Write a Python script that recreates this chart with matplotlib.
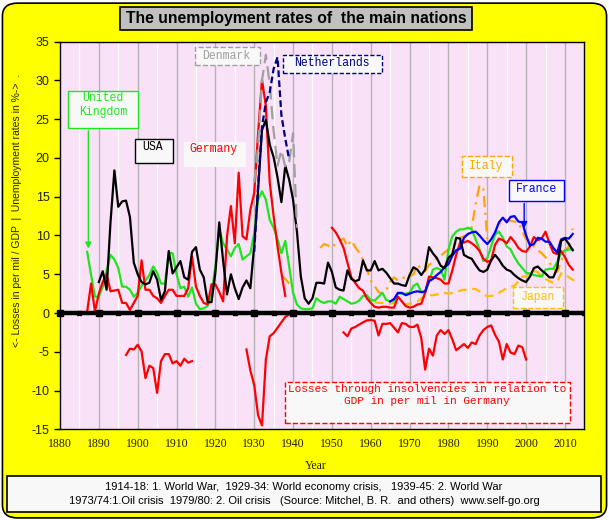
import numpy as np
import matplotlib
matplotlib.use("Agg")
import matplotlib.pyplot as plt
from matplotlib.patches import Rectangle, FancyBboxPatch

# unemployment rates in %, each series given as first year + yearly values
uk_start = 1887
uk = [7.9, 4.9, 2.1, 2.1, 3.4, 5.5, 7.5, 6.9, 5.8, 3.4, 3.4, 3.0, 2.1,
      2.6, 3.5, 4.2, 4.9, 6.0, 5.2, 3.8, 3.8, 7.8, 7.7, 5.0, 3.2, 3.4, 2.1,
      3.3, 1.2, 0.5, 0.6, 0.9,
      2.5, 6.0, 10.8, 9.0, 8.2, 7.3, 8.4, 8.9, 6.9, 7.3, 7.7, 10.3, 14.6,
      15.7, 14.6, 12.0, 11.0, 9.5, 7.7, 9.3, 6.0, 2.6, 1.1, 0.6, 0.5, 0.5,
      0.6, 1.9, 1.5, 1.3, 1.5, 1.5, 1.2, 2.1, 1.8, 1.5, 1.2, 1.3, 1.6, 2.2,
      2.3, 1.7, 1.6, 2.1, 2.6, 1.7, 1.5, 1.6, 2.5, 2.5, 2.5, 2.6, 3.5, 3.8,
      2.7, 2.6, 4.1, 5.6, 5.8, 5.6, 4.3, 8.2, 9.9, 10.5, 10.8, 10.8, 11.0,
      10.8, 9.5, 8.2, 6.7, 7.1, 8.6, 10.1, 10.5, 9.7, 8.6, 8.2, 7.2, 6.4,
      5.8, 5.2, 5.1, 4.9, 4.8, 4.7, 5.6, 5.7, 5.7, 6.6, 7.7, 8.1, 8.2, 8.2]

usa_start = 1890
usa = [4.0, 5.4, 3.0, 11.7, 18.4, 13.7, 14.4, 14.5, 12.4, 6.5,
       5.0, 4.0, 3.7, 3.9, 5.4, 4.3, 1.7, 2.8, 8.0, 5.1,
       5.9, 6.7, 4.6, 4.3, 7.9, 8.5, 5.6, 4.6, 1.4, 1.4,
       5.2, 11.7, 6.7, 2.4, 5.0, 3.2, 1.8, 3.3, 4.2, 3.2,
       8.7, 15.9, 23.6, 24.9, 21.7, 20.1, 17.5, 14.3, 19.0, 17.2,
       14.6, 10.5, 4.7, 1.9, 1.2, 1.9, 3.9, 3.9, 3.8, 6.5,
       5.3, 3.3, 3.0, 2.9, 5.5, 4.4, 4.1, 4.3, 6.8, 5.5,
       5.5, 6.7, 5.5, 5.7, 5.2, 4.5, 3.8, 3.8, 3.6, 3.5,
       4.9, 5.9, 5.6, 4.9, 5.6, 8.5, 7.7, 7.1, 6.1, 5.8,
       7.1, 7.6, 9.7, 9.6, 7.5, 7.2, 7.0, 6.2, 5.5, 5.3,
       5.6, 6.8, 7.5, 6.9, 6.1, 5.6, 5.4, 4.9, 4.5, 4.2,
       4.0, 4.7, 5.8, 6.0, 5.5, 5.1, 4.6, 4.6, 5.8, 9.3,
       9.6, 8.9, 8.1]

germany_early_start = 1887
germany_early = [0.2, 3.8, 0.2, 2.5, 4.0, 5.0, 2.8, 2.9, 3.0, 1.3, 1.3,
                 0.4, 1.3, 2.2, 6.8, 3.0, 3.0, 2.2, 1.9, 1.3, 2.2, 3.0,
                 3.0, 2.2, 2.2, 2.2, 3.2, 7.3, 3.4, 2.2, 1.3, 1.1,
                 3.7, 3.7, 2.7, 1.5, 9.9, 13.8, 9.0, 18.1, 9.9, 9.5,
                 13.3, 15.5, 23.2, 30.1, 26.7, 16.8, 12.5, 8.6, 5.2, 2.2]

germany_late_start = 1950
germany_late = [11.0, 10.4, 9.5, 8.4, 6.5, 4.6, 3.9, 3.2, 2.9, 1.9,
                1.3, 0.8, 0.7, 0.8, 0.8, 0.7, 0.7, 2.1, 1.5, 0.9,
                0.7, 0.8, 1.1, 1.2, 2.6, 4.7, 4.6, 4.5, 4.3, 3.8,
                3.8, 5.5, 7.5, 9.1, 9.1, 9.3, 9.0, 8.6, 8.0, 7.0,
                6.6, 6.8, 8.8, 9.6, 9.4, 9.0, 9.8, 9.2, 8.4, 8.0,
                7.9, 8.6, 9.8, 9.4, 9.6, 10.5, 9.0, 7.8, 7.6, 8.0,
                7.2, 6.2, 5.6]

denmark_start = 1930
denmark = [16.8, 21.5, 30.0, 33.3, 29.5, 23.5, 19.0, 21.0, 18.8, 19.5,
           23.2, 11.0]

netherlands_start = 1930
netherlands = [7.9, 16.5, 24.0, 27.2, 28.5, 31.5, 33.0, 25.5, 22.5, 19.8]

italy_early_start = 1937
italy_early = [4.8, 4.4, 3.8]

italy_late_start = 1947
italy_late = [8.4, 8.9, 8.7, 8.4, 9.0, 9.3, 9.6, 8.6, 9.4, 8.5,
              7.8, 6.9, 5.6, 4.2, 3.5, 2.7, 2.5, 3.0, 4.0, 4.6,
              4.2, 4.5, 4.6, 4.7, 5.0, 6.3, 5.6, 5.4, 6.2, 6.6,
              7.1, 7.4, 7.8, 8.2, 8.5, 9.1, 9.7, 9.9, 10.1, 11.1,
              14.0, 16.5, 16.0, 9.5, 9.4, 10.2, 11.4, 12.0, 12.0, 11.9,
              11.8, 11.7, 10.6, 9.5, 9.1, 8.6, 8.1, 7.7, 7.2, 6.5,
              5.8, 5.3, 6.6, 8.0, 8.6, 10.9]

japan_start = 1961
japan = [1.4, 1.3, 1.3, 1.2, 1.2, 1.3, 1.3, 1.2, 1.1, 1.2,
         1.3, 1.5, 1.9, 2.2, 2.3, 2.3, 2.4, 2.5, 2.6, 2.5,
         2.6, 2.7, 2.9, 3.0, 3.0, 3.1, 3.1, 2.8, 2.4, 2.2,
         2.2, 2.3, 2.6, 2.9, 3.2, 3.4, 3.5, 4.1, 4.7, 4.7,
         5.0, 5.4, 5.3, 4.7, 4.4, 4.1, 3.9, 4.0, 5.1, 5.1,
         4.6, 4.3, 4.0]

france_start = 1965
france = [1.5, 1.8, 2.6, 2.6, 2.3, 2.5, 2.7, 2.8, 2.7, 2.8,
          4.1, 4.4, 4.9, 5.3, 5.9, 6.3, 7.4, 8.1, 8.3, 9.7,
          10.2, 10.4, 10.5, 10.0, 9.4, 8.9, 9.5, 10.4, 11.7, 12.3,
          11.7, 12.4, 12.5, 11.8, 11.7, 10.0, 8.7, 8.9, 9.7, 9.6,
          9.2, 9.2, 8.4, 7.8, 9.5, 9.7, 9.6, 10.2]

# losses through insolvencies in Germany, per mil of GDP (drawn negative)
losses_a_start = 1897
losses_a = [-5.4, -4.6, -4.7, -4.1, -4.95, -8.4, -6.8, -7.1, -10.3, -6.2,
            -5.3, -5.3, -6.5, -6.2, -6.8, -5.9, -6.4, -6.2]
losses_b_start = 1928
losses_b = [-4.7, -7.4, -9.3, -13.2, -14.5, -6.0, -3.0, -2.6, -1.9, -1.2,
            -0.5, -0.2]
losses_c_start = 1953
losses_c = [-2.5, -3.0, -2.0, -1.8, -1.5, -1.2, -0.95, -0.9, -1.0, -2.9,
            -1.4, -1.4, -1.3, -1.9, -2.5, -1.3, -1.4, -1.8, -1.8, -1.5,
            -3.2, -7.3, -4.6, -5.5, -2.9, -2.2, -2.7, -2.2, -3.4, -4.8,
            -4.4, -4.0, -4.5, -3.8, -4.0, -2.9, -2.2, -1.8, -1.6, -2.8,
            -3.7, -6.0, -4.0, -5.1, -5.3, -4.2, -4.4, -6.0]

x_ticks = list(range(1880, 2011, 10))
y_ticks = list(range(-15, 36, 5))

GREEN = "#1EE61E"
RED = "#FF0000"
BLUE = "#0000FF"
NAVY = "#000080"
GRAY = "#A0A0A0"
ORANGE = "#FFA500"
JAPAN = "#FFBF00"
BOXFONT = "Liberation Mono"


def years(start, vals):
    return np.arange(start, start + len(vals))


def label_box(ax, x0, x1, y0, y1, edge, ls="-"):
    ax.add_patch(Rectangle((x0, y0), x1 - x0, y1 - y0, facecolor="#F8F8F8",
                           edgecolor=edge, lw=1, ls=ls, zorder=6))


def main():
    fig = plt.figure(figsize=(6.09, 5.2), dpi=100)
    fig.patch.set_facecolor("white")
    frame = FancyBboxPatch((0.004, 0.004), 0.992, 0.99,
                           boxstyle="round,pad=0,rounding_size=0.025",
                           transform=fig.transFigure, facecolor="#FFFF00",
                           edgecolor="black", lw=1.2, zorder=-10)
    fig.patches.append(frame)

    ax = fig.add_axes([60 / 609, 1 - 429.3 / 520, 524 / 609, 387.6 / 520])
    ax.set_zorder(1)
    ax.set_facecolor("#F9E1F8")
    ax.set_xlim(1880, 2014.9)
    ax.set_ylim(-15, 35)

    # vertical grid: gray every 10 years, white in between
    for yr in range(1885, 2015, 5):
        col = "#B4B4B4" if yr % 10 == 0 else "white"
        ax.axvline(yr, color=col, lw=1, zorder=0.5)

    # zero line with its own tick squares
    ax.axhline(0, color="black", lw=3.2, zorder=4)
    ax.plot(x_ticks, [0] * len(x_ticks), "s", color="black", ms=4.5,
            zorder=4, clip_on=False)
    ax.plot([t + 5 for t in x_ticks], [0] * len(x_ticks), "s",
            color="black", ms=2.5, zorder=4)

    lw = 1.6
    ax.plot(years(japan_start, japan), japan, color=JAPAN, lw=lw,
            ls=(0, (4, 2.5)), zorder=2)
    dashdot = (0, (5, 2.5, 1, 2.5))
    ax.plot(years(italy_early_start, italy_early), italy_early, color=ORANGE,
            lw=lw, ls=dashdot, zorder=2)
    ax.plot(years(italy_late_start, italy_late), italy_late, color=ORANGE,
            lw=lw, ls=dashdot, zorder=2)
    ax.plot(years(uk_start, uk), uk, color=GREEN, lw=lw, zorder=2)
    ax.plot(years(germany_early_start, germany_early), germany_early,
            color=RED, lw=lw, zorder=2)
    ax.plot(years(germany_late_start, germany_late), germany_late,
            color=RED, lw=lw, zorder=2)
    ax.plot(years(france_start, france), france, color=BLUE, lw=lw, zorder=2)
    ax.plot(years(usa_start, usa), usa, color="black", lw=lw, zorder=3)
    ax.plot(years(denmark_start, denmark), denmark, color=GRAY, lw=lw,
            ls=(0, (6, 3)), zorder=3)
    ax.plot(years(netherlands_start, netherlands), netherlands, color=NAVY,
            lw=lw, ls=(0, (3, 1.5)), zorder=3)
    for start, vals in [(losses_a_start, losses_a), (losses_b_start, losses_b),
                        (losses_c_start, losses_c)]:
        ax.plot(years(start, vals), vals, color=RED, lw=lw, zorder=2)

    # country labels
    label_box(ax, 1882.1, 1900.0, 23.9, 28.6, GREEN)
    ax.text(1891.0, 26.8, "United\nKingdom", color=GREEN, family=BOXFONT,
            fontsize=8.3, ha="center", va="center", linespacing=1.2, zorder=7)
    ax.annotate("", xy=(1887.3, 7.95), xytext=(1887.3, 23.9),
                arrowprops=dict(arrowstyle="-|>", color=GREEN, lw=1,
                                mutation_scale=9), zorder=7)

    label_box(ax, 1899.2, 1909.15, 19.4, 22.4, "black")
    ax.text(1903.75, 21.4, "USA", color="black", family=BOXFONT,
            fontsize=8.3, ha="center", va="center", zorder=7)

    label_box(ax, 1911.9, 1927.9, 18.9, 22.1, "none")
    ax.text(1919.6, 21.2, "Germany", color=RED, family=BOXFONT,
            fontsize=8.3, ha="center", va="center", zorder=7)

    label_box(ax, 1914.7, 1931.4, 31.95, 34.3, GRAY, ls="--")
    ax.text(1922.9, 33.1, "Denmark", color=GRAY, family=BOXFONT,
            fontsize=8.3, ha="center", va="center", zorder=7)

    label_box(ax, 1937.4, 1962.8, 31.0, 33.3, NAVY, ls=(0, (3, 1.5)))
    ax.text(1950.0, 32.2, "Netherlands", color=NAVY, family=BOXFONT,
            fontsize=8.3, ha="center", va="center", zorder=7)

    label_box(ax, 1983.4, 1996.4, 17.55, 20.2, ORANGE, ls="--")
    ax.text(1989.8, 19.0, "Italy", color=ORANGE, family=BOXFONT,
            fontsize=8.3, ha="center", va="center", zorder=7)

    label_box(ax, 1995.7, 2009.8, 14.5, 17.1, BLUE)
    ax.text(2002.6, 16.0, "France", color=BLUE, family=BOXFONT,
            fontsize=8.3, ha="center", va="center", zorder=7)
    ax.annotate("", xy=(1999.5, 10.6), xytext=(1999.5, 14.5),
                arrowprops=dict(arrowstyle="-|>", color=BLUE, lw=1,
                                mutation_scale=9), zorder=7)

    label_box(ax, 1996.7, 2009.4, 0.65, 3.35, JAPAN, ls="--")
    ax.text(2003.0, 2.1, "Japan", color=JAPAN, family=BOXFONT,
            fontsize=8.3, ha="center", va="center", zorder=7)

    label_box(ax, 1937.8, 2011.2, -14.2, -8.9, RED, ls="--")
    ax.text(1974.5, -10.6, "Losses through insolvencies in relation to\n"
            "GDP in per mil in Germany", color=RED, family=BOXFONT,
            fontsize=8, ha="center", va="center", linespacing=1.25, zorder=7)

    # axes styling
    for sp in ax.spines.values():
        sp.set_color("black")
        sp.set_linewidth(1)
    ax.set_yticks(y_ticks)
    ax.set_yticklabels([str(t) for t in y_ticks], family="Liberation Sans",
                       fontsize=9, color="#222200")
    ax.tick_params(axis="y", direction="out", length=4, width=1)
    ax.set_xticks(x_ticks)
    ax.set_xticklabels([str(t) for t in x_ticks], family="Liberation Serif",
                       fontsize=8.5, color="#222200")
    ax.tick_params(axis="x", length=0, pad=6)

    fig.text(316 / 609, 1 - 466 / 520, "Year", family="Liberation Serif",
             fontsize=8.5, ha="center", va="center", color="#222200")
    fig.text(17 / 609, 1 - 210 / 520,
             "<- Losses in per mil / GDP  |  Unemployment rates in %->  .",
             rotation=90, family="Liberation Sans", fontsize=7.5,
             ha="center", va="center", color="#222200")

    # title
    fig.patches.append(Rectangle((120 / 609, 1 - 30 / 520), 352 / 609,
                                 23 / 520, transform=fig.transFigure,
                                 facecolor="#C0C0C0", edgecolor="black",
                                 lw=1.2))
    fig.text(296 / 609, 1 - 18.5 / 520,
             "The unemployment rates of  the main nations",
             family="Liberation Sans", weight="bold", fontsize=11.3,
             ha="center", va="center")

    # source box
    fig.patches.append(Rectangle((7 / 609, 1 - 512 / 520), 594 / 609,
                                 36 / 520, transform=fig.transFigure,
                                 facecolor="#F8F8F8", edgecolor="black",
                                 lw=1.2))
    fig.text(304 / 609, 1 - 486.5 / 520,
             "1914-18: 1. World War,  1929-34: World economy crisis,   "
             "1939-45: 2. World War",
             family="Liberation Sans", fontsize=8, ha="center", va="center")
    fig.text(304 / 609, 1 - 501.5 / 520,
             "1973/74:1.Oil crisis  1979/80: 2. Oil crisis   (Source: "
             "Mitchel, B. R.  and others)  www.self-go.org",
             family="Liberation Sans", fontsize=8, ha="center", va="center")

    fig.savefig("out.png", dpi=100, facecolor=fig.get_facecolor())


main()
